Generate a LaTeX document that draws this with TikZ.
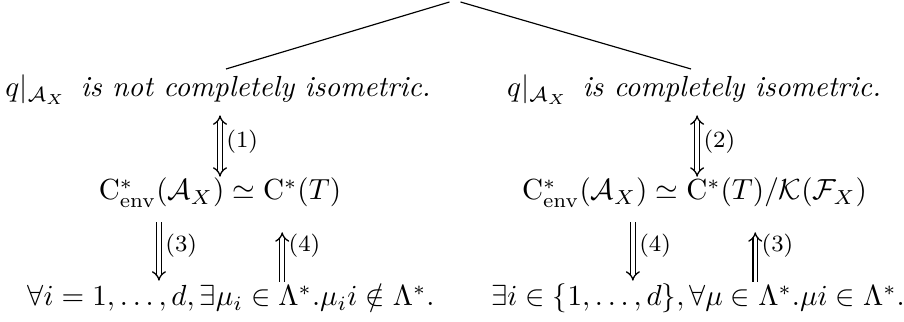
\documentclass[tikz,border=0pt]{standalone}
\usepackage{amsmath,amssymb}
\usetikzlibrary{arrows.meta}
\tikzset{
  stmt/.style={inner sep=0pt,anchor=base},
  dimp/.style={-{Implies[scale=1.4]},double,double distance=1.2pt,line width=0.45pt},
  deqv/.style={{Implies[scale=1.4]}-{Implies[scale=1.4]},double,double distance=1.2pt,line width=0.45pt},
  tag/.style={right,font=\footnotesize,inner sep=2pt}
}

\begin{document}
\begin{tikzpicture}[x=0.344pt,y=-0.344pt]
    \useasboundingbox (0,0) rectangle (904,322);
    \node[inner sep=0pt,minimum width=3.4pt,minimum height=0pt] (root) at (455,2) {};
    \coordinate (lend) at (226,69);
    \coordinate (rend) at (691,69);
    \draw (root.west) -- (lend);
    \draw (root.east) -- (rend);

    % not completely isometric
    \begin{scope}
      \node[stmt] (lq) at (218,97) {$q|_{\mathcal{A}_X}$\ \,\textit{is not completely isometric.}};
      \node[stmt] (lc) at (220,200) {$\mathrm{C}^*_{\mathrm{env}}(\mathcal{A}_X)\simeq\mathrm{C}^*(T)$};
      \node[stmt] (lb) at (231,306) {$\forall i=1,\dots,d,\exists\mu_i\in\Lambda^*.\mu_i i\notin\Lambda^*.$};
      \draw[deqv,shorten <=3.6pt,shorten >=0.3pt] (lc.north |- lq.south) -- node[tag] {(1)} (lc.north);
      \draw[dimp,shorten <=5pt,shorten >=1pt] ([xshift=-21pt]lc.south) -- node[tag] {(3)} ([xshift=-21pt]lc.south |- lb.north);
      \draw[dimp,shorten <=0.6pt,shorten >=8.4pt] ([xshift=21.4pt]lc.south |- lb.north) -- node[tag] {(4)} ([xshift=21.4pt]lc.south);
    \end{scope}

    % completely isometric
    \begin{scope}
      \node[stmt] (rq) at (694,97) {$q|_{\mathcal{A}_X}$\ \,\textit{is completely isometric.}};
      \node[stmt] (rc) at (694.5,200) {$\mathrm{C}^*_{\mathrm{env}}(\mathcal{A}_X)\simeq\mathrm{C}^*(T)/\mathcal{K}(\mathcal{F}_X)$};
      \node[stmt] (rb) at (698,306) {$\exists i\in\{1,\dots,d\},\forall\mu\in\Lambda^*.\mu i\in\Lambda^*.$};
      \draw[deqv,shorten <=3.6pt,shorten >=0.3pt] ([xshift=0.9pt]rc.north |- rq.south) -- node[tag] {(2)} ([xshift=0.9pt]rc.north);
      \draw[dimp,shorten <=5pt,shorten >=1pt] ([xshift=-21.2pt]rc.south) -- node[tag] {(4)} ([xshift=-21.2pt]rc.south |- rb.north);
      \draw[dimp,shorten <=0.6pt,shorten >=8.4pt] ([xshift=20.9pt]rc.south |- rb.north) -- node[tag] {(3)} ([xshift=20.9pt]rc.south);
    \end{scope}
\end{tikzpicture}
\end{document}
